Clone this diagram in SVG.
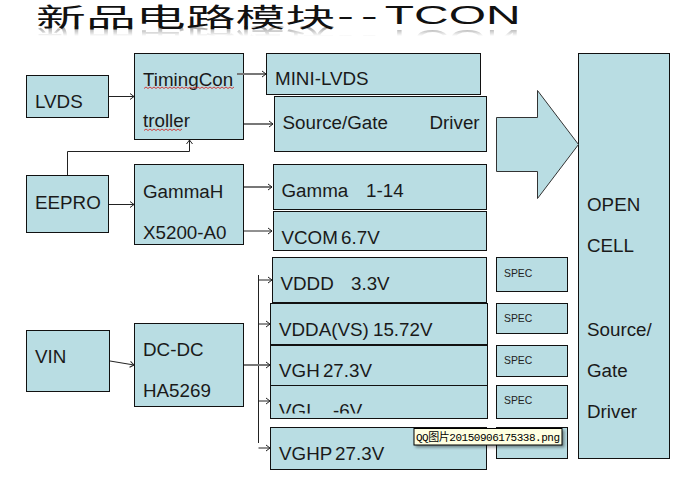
<svg xmlns="http://www.w3.org/2000/svg" width="680" height="478" viewBox="0 0 680 478">
<style>
.b{fill:#b9dde3;stroke:#111;stroke-width:1}
.t{font-family:"Liberation Sans",Arial,sans-serif;font-size:18.8px;fill:#1a1a1a}
.s{font-family:"Liberation Sans",Arial,sans-serif;font-size:10.400px;fill:#222}
.c{fill:none;stroke:#222;stroke-width:1;marker-end:url(#a)}
.g{stroke:#777;stroke-width:2}
.w{fill:none;stroke:#d04040;stroke-width:1}
</style>
<defs>
<marker id="a" markerUnits="userSpaceOnUse" markerWidth="8" markerHeight="8" refX="6" refY="4" orient="auto"><path d="M2 1L6 4L2 7" fill="none" stroke="#222" stroke-width="1"/></marker>
<linearGradient id="f" x1="0" y1="0" x2="0" y2="1"><stop offset="0" stop-color="#fff" stop-opacity=".45"/><stop offset="1" stop-color="#fff" stop-opacity="0"/></linearGradient>
<mask id="m" maskUnits="userSpaceOnUse" x="30" y="26" width="500" height="10"><rect x="30" y="26" width="500" height="10" fill="url(#f)"/></mask>
<clipPath id="v"><rect x="271" y="386" width="216" height="27.500"/></clipPath>
<filter id="d" x="-5%" y="-20%" width="110%" height="150%"><feDropShadow dx="2" dy="2" stdDeviation="1.500" flood-color="#000" flood-opacity=".4"/></filter>
</defs>
<g id="title">
<text id="title-text" transform="translate(36 27) scale(1.92 1)" font-family="'Liberation Sans','Noto Sans CJK SC',sans-serif" font-size="26" fill="#111"><tspan>新品电路模块</tspan><tspan dx="1" dy="-2" letter-spacing="3.700">--</tspan><tspan font-size="25" dy="-1">TCON</tspan></text>
</g>
<g mask="url(#m)"><use href="#title-text" transform="translate(0 54) scale(1 -1)"/></g>
<g id="lvds"><rect class="b" x="26.500" y="75.500" width="82" height="42"/><text class="t" x="35" y="108">LVDS</text></g>
<g id="timing"><rect class="b" x="134.500" y="53.500" width="109" height="86"/><text class="t" x="143" y="86">TimingCon</text><text class="t" x="143" y="127">troller</text>
<path class="w" d="M144 88.500l2-1.500 2 1.500 2-1.500 2 1.500 2-1.500 2 1.500 2-1.500 2 1.500 2-1.500 2 1.500 2-1.500 2 1.500 2-1.500 2 1.500 2-1.500 2 1.500 2-1.500 2 1.500 2-1.500 2 1.500 2-1.500 2 1.500 2-1.500 2 1.500 2-1.500 2 1.500 2-1.500 2 1.500 2-1.500 2 1.500 2-1.500 2 1.500 2-1.500 2 1.500 2-1.500 2 1.500 2-1.500 2 1.500 2-1.500 2 1.500 2-1.500 2 1.500 2-1.500 2 1.500 2-1.500"/>
<path class="w" d="M144 130.500l2-1.500 2 1.500 2-1.500 2 1.500 2-1.500 2 1.500 2-1.500 2 1.500 2-1.500 2 1.500 2-1.500 2 1.500 2-1.500 2 1.500 2-1.500 2 1.500 2-1.500 2 1.500 2-1.500"/></g>
<g id="mini"><rect class="b" x="266.500" y="53.500" width="214" height="41"/><text class="t" x="275" y="85">MINI-LVDS</text></g>
<g id="source"><rect class="b" x="274.500" y="96.500" width="212" height="55"/><text class="t" x="282.500" y="129">Source/Gate</text><text class="t" x="429.500" y="129">Driver</text></g>
<g id="eepro"><rect class="b" x="26.500" y="175.500" width="82" height="57"/><text class="t" x="35" y="209">EEPRO</text></g>
<g id="gammah"><rect class="b" x="134.500" y="164.500" width="109" height="80"/><text class="t" x="143" y="198">GammaH</text><text class="t" x="143" y="239">X5200-A0</text></g>
<g id="gamma"><rect class="b" x="273.500" y="164.500" width="213" height="45"/><text class="t" x="281.500" y="197">Gamma</text><text class="t" x="366" y="197">1-14</text></g>
<g id="vcom"><rect class="b" x="273.500" y="211.500" width="213" height="39"/><text class="t" x="281.500" y="244" word-spacing="-2">VCOM 6.7V</text></g>
<g id="vin"><rect class="b" x="26.500" y="330.500" width="83" height="61"/><text class="t" x="35" y="363">VIN</text></g>
<g id="dcdc"><rect class="b" x="134.500" y="323.500" width="109" height="83"/><text class="t" x="143" y="356">DC-DC</text><text class="t" x="143" y="397">HA5269</text></g>
<g id="vddd"><rect class="b" x="272.500" y="257.500" width="214" height="45"/><text class="t" x="280.500" y="290">VDDD</text><text class="t" x="351" y="290">3.3V</text></g>
<g id="vdda"><rect class="b" x="270.500" y="303.500" width="217" height="41" stroke-width="1.500"/><text class="t" x="279" y="336" word-spacing="-1">VDDA(VS) 15.72V</text></g>
<g id="vgh"><rect class="b" x="270.500" y="345.500" width="217" height="40"/><text class="t" x="279" y="377" word-spacing="-2">VGH 27.3V</text></g>
<g id="vgl"><rect class="b" x="270.500" y="385.500" width="217" height="33"/><g clip-path="url(#v)"><text class="t" x="279" y="417">VGL</text><text class="t" x="333" y="417">-6V</text></g></g>
<g id="vghp"><rect class="b" x="270.500" y="427.500" width="216" height="42"/><text class="t" x="279" y="460" word-spacing="-2">VGHP 27.3V</text></g>
<g id="spec1"><rect class="b" x="496.500" y="257.500" width="71" height="34"/><text class="s" x="504" y="277">SPEC</text></g>
<g id="spec2"><rect class="b" x="496.500" y="303.500" width="71" height="30"/><text class="s" x="504" y="322">SPEC</text></g>
<g id="spec3"><rect class="b" x="496.500" y="345.500" width="71" height="31"/><text class="s" x="504" y="364">SPEC</text></g>
<g id="spec4"><rect class="b" x="496.500" y="385.500" width="71" height="33"/><text class="s" x="504" y="404">SPEC</text></g>
<g id="spec5"><rect class="b" x="496.500" y="427.500" width="71" height="31"/></g>
<g id="open"><rect class="b" x="578.500" y="53.500" width="91" height="405"/><text class="t" x="587" y="211">OPEN</text><text class="t" x="587" y="252">CELL</text><text class="t" x="587" y="336">Source/</text><text class="t" x="587" y="377">Gate</text><text class="t" x="587" y="418">Driver</text></g>
<g id="big-arrow"><path d="M496.500 117.500H537.500V90.500L578.500 144.500L537.500 198.500V171.500H496.500Z" fill="#b9dde3" stroke="#333" stroke-width="1"/></g>
<g id="connectors">
<path class="c" d="M109 96.500H134"/>
<path class="c g" d="M237 74H266"/>
<path class="c g" d="M244 124H273"/>
<path class="c" d="M67.500 175V151.500H189.500V140"/>
<path class="c" d="M109 204.500H134"/>
<path class="c g" d="M244 187H272"/>
<path class="c" d="M244 231H272"/>
<path class="c" d="M110 361L134 365"/>
<path fill="none" stroke="#222" d="M258.500 275V443"/>
<path class="c" d="M258.500 280H272"/>
<path class="c" d="M258.500 324H270"/>
<path class="c g" d="M244 365H270"/>
<path class="c" d="M258.500 401H270"/>
<path class="c" d="M258.500 448H270"/>
</g>
<g id="tooltip"><rect x="414" y="428.500" width="148" height="16.500" fill="#ffffe1" stroke="#000" filter="url(#d)"/><text x="416" y="441" font-family="'Liberation Mono','Noto Sans CJK SC',monospace" font-size="11" textLength="144" fill="#000">QQ图片20150906175338.png</text></g>
</svg>
